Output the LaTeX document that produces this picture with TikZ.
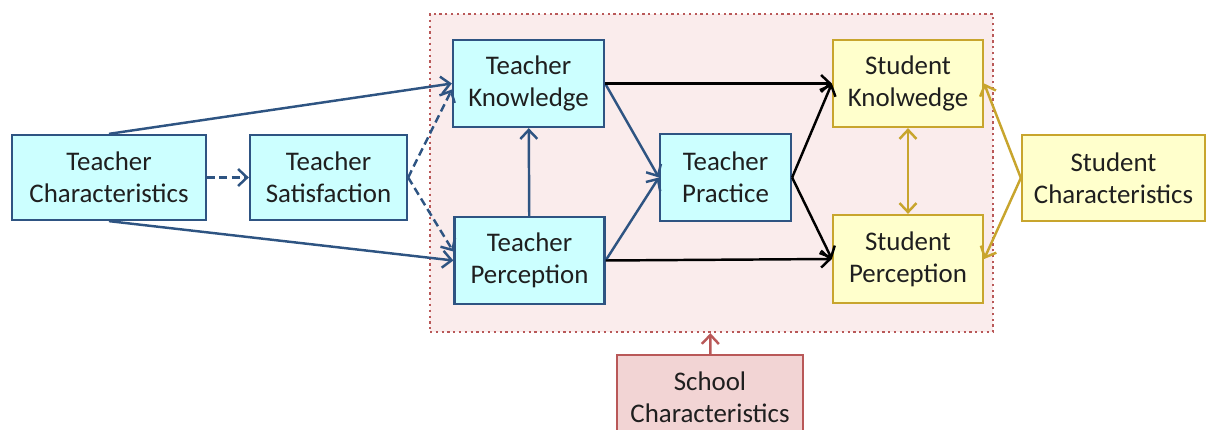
\documentclass[tikz,border=0pt]{standalone}
\usepackage{fontspec}
\setmainfont{Carlito}
\usetikzlibrary{arrows.meta}
\definecolor{tcyan}{RGB}{204,255,255}
\definecolor{tline}{RGB}{46,84,130}
\definecolor{syellow}{RGB}{255,255,204}
\definecolor{sline}{RGB}{200,165,45}
\definecolor{rfill}{RGB}{242,212,212}
\definecolor{rline}{RGB}{185,88,88}
\definecolor{ctxfill}{RGB}{250,236,236}
\begin{document}
\begin{tikzpicture}[font=\fontsize{15.3}{18.3}\selectfont,
        box/.style={draw, line width=1.3pt, align=center, inner sep=2pt, text=black!88},
        tbox/.style={box, draw=tline, fill=tcyan},
        sbox/.style={box, draw=sline, fill=syellow},
        link/.style={->, line width=1.4pt},
        >={Straight Barb[length=1.8mm,width=3.4mm]}]
        \useasboundingbox (0,0) rectangle (24.12,8.6);
        % school context
        \node[draw=rline, fill=ctxfill, dotted, line width=1.3pt, minimum width=11.26cm, minimum height=6.36cm] (ctx) at (14.23,5.14) {};
        % teacher side
        \node[tbox, minimum width=3.88cm, minimum height=1.7cm] (tchar) at (2.18,5.05) {Teacher\\Characteristics};
        \node[tbox, minimum width=3.14cm, minimum height=1.7cm] (tsat) at (6.57,5.05) {Teacher\\Satisfaction};
        \node[tbox, minimum width=3.02cm, minimum height=1.74cm] (tknow) at (10.57,6.93) {Teacher\\Knowledge};
        \node[tbox, minimum width=3.0cm, minimum height=1.74cm] (tperc) at (10.59,3.39) {Teacher\\Perception};
        \node[tbox, minimum width=2.62cm, minimum height=1.74cm] (tprac) at (14.51,5.05) {Teacher\\Practice};
        % student side
        \node[sbox, minimum width=3.0cm, minimum height=1.74cm] (sknow) at (18.16,6.93) {Student\\Knolwedge};
        \node[sbox, minimum width=3.0cm, minimum height=1.76cm] (sperc) at (18.16,3.42) {Student\\Perception};
        \node[sbox, minimum width=3.66cm, minimum height=1.72cm] (schar) at (22.27,5.04) {Student\\Characteristics};
        \node[box, draw=rline, fill=rfill, minimum width=3.72cm, minimum height=1.7cm] (school) at (14.2,0.65) {School\\Characteristics};

        \draw[link,tline] (tchar.north) -- (tknow.west);
        \draw[link,tline] (tchar.south) -- (tperc.west);
        \draw[link,tline,dash pattern=on 4.5pt off 2.5pt] (tchar) -- (tsat);
        \draw[link,tline,dash pattern=on 4.5pt off 2.5pt] (tsat.east) -- ([yshift=-0.12cm]tknow.west);
        \draw[link,tline,dash pattern=on 4.5pt off 2.5pt] (tsat.east) -- ([yshift=0.18cm]tperc.west);
        \draw[link,tline] (tperc) -- (tknow);
        \draw[link,tline] (tknow.east) -- (tprac.west);
        \draw[link,tline] (tperc.east) -- (tprac.west);
        \draw[link,black] (tknow.east) -- (sknow.west);
        \draw[link,black] (tperc.east) -- (sperc.west);
        \draw[link,black] (tprac.east) -- (sknow.west);
        \draw[link,black] (tprac.east) -- (sperc.west);
        \draw[link,<->,sline] (sknow) -- (sperc);
        \draw[link,sline] (schar.west) -- (sknow.east);
        \draw[link,sline] (schar.west) -- (sperc.east);
        \draw[link,rline] (school) -- (ctx);
    \end{tikzpicture}
\end{document}
